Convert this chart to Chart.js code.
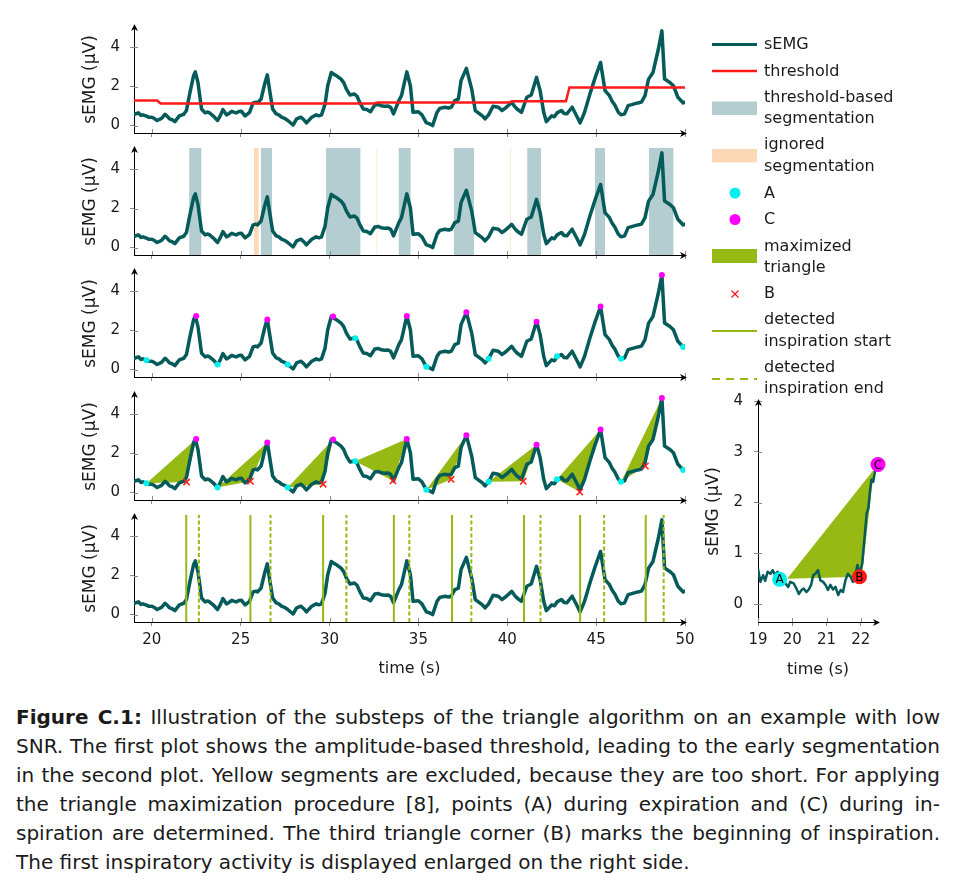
<!DOCTYPE html>
<html>
<head>
<meta charset="utf-8">
<script src="https://cdn.jsdelivr.net/npm/chart.js@4.4.0/dist/chart.umd.min.js"></script>
<style>
  body { margin: 0; background: #fff; font-family: "DejaVu Sans", sans-serif; color: #1a1a1a; }
  #page { position: relative; width: 955px; height: 888px; overflow: hidden; }
  canvas { position: absolute; }
  .lg { position: absolute; left: 764px; font-size: 16px; line-height: 20px; white-space: nowrap; }
  #legendSymbols { position: absolute; left: 0; top: 0; }
  #cap { position: absolute; left: 16px; top: 703px; width: 924px; font-size: 20px; }
  #cap .l { height: 29px; line-height: 29px; text-align: justify; text-align-last: justify; }
  #cap .l.last { text-align-last: left; }
</style>
</head>
<body>
<div id="page">
  <canvas id="p1" width="615" height="125" style="left:80px;top:18px"></canvas>
  <canvas id="p2" width="615" height="125" style="left:80px;top:140px"></canvas>
  <canvas id="p3" width="615" height="125" style="left:80px;top:262px"></canvas>
  <canvas id="p4" width="615" height="125" style="left:80px;top:385px"></canvas>
  <canvas id="p5" width="615" height="171" style="left:80px;top:507px"></canvas>
  <canvas id="pz" width="186" height="286" style="left:703px;top:393px"></canvas>

  <svg id="legendSymbols" width="955" height="400">
    <line x1="712" y1="44.5" x2="757" y2="44.5" stroke="#055a5a" stroke-width="3"/>
    <line x1="712" y1="71" x2="757" y2="71" stroke="#ff1a1a" stroke-width="2.5"/>
    <rect x="712" y="101.5" width="45" height="13.5" fill="#b4cdd0"/>
    <rect x="712" y="149" width="45" height="13.5" fill="#fdd8b5"/>
    <circle cx="735" cy="193" r="5.5" fill="#00f0f0"/>
    <circle cx="735" cy="219.5" r="5.5" fill="#ff00ff"/>
    <rect x="712" y="249" width="45" height="14" fill="#96b914"/>
    <path d="M731.5 290.5 L738.5 297.5 M738.5 290.5 L731.5 297.5" stroke="#ff1a1a" stroke-width="1.3"/>
    <line x1="712" y1="331" x2="757" y2="331" stroke="#96b914" stroke-width="2"/>
    <line x1="712" y1="379" x2="757" y2="379" stroke="#96b914" stroke-width="2" stroke-dasharray="8,6"/>
  </svg>
  <div class="lg" style="top:34px">sEMG</div>
  <div class="lg" style="top:61px">threshold</div>
  <div class="lg" style="top:87px">threshold-based</div>
  <div class="lg" style="top:108px">segmentation</div>
  <div class="lg" style="top:134px">ignored</div>
  <div class="lg" style="top:156px">segmentation</div>
  <div class="lg" style="top:183px">A</div>
  <div class="lg" style="top:209px">C</div>
  <div class="lg" style="top:236px">maximized</div>
  <div class="lg" style="top:257px">triangle</div>
  <div class="lg" style="top:283px">B</div>
  <div class="lg" style="top:309px">detected</div>
  <div class="lg" style="top:331px">inspiration start</div>
  <div class="lg" style="top:357px">detected</div>
  <div class="lg" style="top:378px">inspiration end</div>

  <div id="cap">
    <div class="l"><b>Figure C.1:</b> Illustration of the substeps of the triangle algorithm on an example with low</div>
    <div class="l">SNR. The first plot shows the amplitude-based threshold, leading to the early segmentation</div>
    <div class="l">in the second plot. Yellow segments are excluded, because they are too short. For applying</div>
    <div class="l">the triangle maximization procedure [8], points (A) during expiration and (C) during in-</div>
    <div class="l">spiration are determined. The third triangle corner (B) marks the beginning of inspiration.</div>
    <div class="l last">The first inspiratory activity is displayed enlarged on the right side.</div>
  </div>
</div>

<script>
// Signal sEMG (temps en s, amplitude en µV)
const T = [19.0, 19.15, 19.25, 19.4, 19.5, 19.7, 19.85, 20.0, 20.15, 20.3, 20.55, 20.75, 20.9, 21.0, 21.15, 21.3, 21.55,
  21.8, 21.95, 22.15, 22.35, 22.45, 22.6, 22.8, 23.0, 23.15, 23.25, 23.45, 23.7, 23.85, 24.0, 24.2, 24.35, 24.5, 24.65,
  24.75, 24.9, 25.05, 25.25, 25.5, 25.7, 25.85, 25.95, 26.15, 26.35, 26.5, 26.65, 26.8, 27.0, 27.15, 27.3, 27.5, 27.65,
  27.95, 28.15, 28.4, 28.55, 28.7, 29.0, 29.25, 29.4, 29.55, 29.75, 29.9, 30.1, 30.25, 30.4, 30.65, 30.8, 30.95, 31.15,
  31.4, 31.55, 31.7, 31.9, 32.1, 32.3, 32.55, 32.75, 32.9, 33.1, 33.3, 33.45, 33.6, 33.9, 34.05, 34.35, 34.55, 34.7,
  35.0, 35.2, 35.45, 35.6, 35.8, 36.05, 36.2, 36.5, 36.7, 36.85, 37.05, 37.25, 37.4, 37.7, 38.0, 38.2, 38.45, 38.6,
  38.75, 38.95, 39.2, 39.5, 39.7, 39.95, 40.25, 40.4, 40.55, 40.8, 41.1, 41.35, 41.65, 41.85, 42.05, 42.2, 42.5, 42.65,
  42.8, 43.05, 43.2, 43.35, 43.65, 43.9, 44.1, 44.35, 44.65, 44.95, 45.25, 45.5, 45.75, 45.9, 46.05, 46.25, 46.4, 46.6,
  46.8, 47.1, 47.35, 47.55, 47.75, 47.95, 48.2, 48.5, 48.7, 48.85, 49.15, 49.35, 49.6, 49.9, 50.0];
const SEMG = [0.56, 0.62, 0.65, 0.52, 0.55, 0.48, 0.42, 0.43, 0.36, 0.26, 0.37, 0.58, 0.45, 0.34, 0.3, 0.2, 0.5,
  0.58, 0.77, 1.7, 2.55, 2.75, 2.2, 0.85, 0.65, 0.7, 0.65, 0.5, 0.26, 0.5, 0.82, 0.55, 0.62, 0.73, 0.68,
  0.65, 0.72, 0.73, 0.5, 0.68, 1.16, 1.2, 1.16, 1.36, 2.13, 2.6, 1.7, 0.85, 0.6, 0.55, 0.43, 0.36, 0.26,
  0.03, 0.34, 0.43, 0.3, 0.14, 0.43, 0.55, 0.5, 0.55, 1.1, 2.04, 2.72, 2.62, 2.55, 2.38, 2.2, 1.87, 1.57,
  1.62, 1.5, 1.19, 0.85, 0.82, 0.71, 1.05, 1.08, 1.02, 0.99, 1.0, 0.92, 0.6, 1.28, 1.53, 2.75, 2.04, 0.68,
  0.71, 0.55, 0.14, 0.1, 0.0, 0.68, 0.88, 0.94, 0.9, 0.94, 1.28, 1.36, 2.3, 2.93, 1.87, 0.77, 0.6, 0.5,
  0.34, 0.55, 0.99, 0.94, 0.77, 0.94, 1.19, 1.0, 0.85, 0.68, 1.45, 1.57, 2.47, 1.79, 0.68, 0.2, 0.5, 0.45,
  0.65, 0.77, 0.62, 0.6, 0.94, 0.5, 0.14, 0.68, 1.62, 2.47, 3.23, 1.79, 1.53, 1.25, 1.05, 0.68, 0.55, 0.6,
  1.02, 1.1, 1.16, 1.2, 1.53, 2.38, 2.72, 3.91, 4.85, 2.38, 2.21, 2.04, 1.45, 1.16, 1.2];

// Seuil adaptatif (panneau 1)
const THR_T = [19.0, 20.3, 20.5, 32.5, 32.7, 40.1, 40.3, 43.3, 43.5, 50.0];
const THR_V = [1.28, 1.28, 1.13, 1.13, 1.18, 1.18, 1.24, 1.24, 1.95, 1.95];

// Segmentation (panneau 2)
const SEG_START = [22.1, 26.13, 29.79, 33.88, 36.98, 41.12, 44.92, 47.96];
const SEG_END = [22.8, 26.77, 31.75, 34.57, 38.13, 41.91, 45.5, 49.36];
const IGN_START = [25.74, 32.64, 40.17];
const IGN_END = [26.02, 32.7, 40.23];

// Coins A, C, B (panneaux 3 et 4)
const A_T = [19.7, 23.7, 27.65, 31.45, 35.45, 38.95, 42.8, 46.4, 49.9];
const A_V = [0.48, 0.26, 0.26, 1.6, 0.14, 0.55, 0.68, 0.55, 1.16];
const C_T = [22.5, 26.5, 30.2, 34.35, 37.7, 41.65, 45.25, 48.7];
const C_V = [2.75, 2.57, 2.72, 2.75, 2.93, 2.45, 3.23, 4.85];
const B_T = [21.96, 25.55, 29.64, 33.57, 36.84, 40.9, 44.08, 47.77];
const B_V = [0.54, 0.58, 0.43, 0.6, 0.68, 0.58, 0.03, 1.36];

// Début / fin d'inspiration détectés (panneau 5)
const INSP_START = [21.94, 25.55, 29.64, 33.62, 36.89, 40.94, 44.1, 47.79];
const INSP_END = [22.65, 26.68, 30.95, 34.49, 37.98, 41.87, 45.45, 48.8];

const X_TICKS = [20, 25, 30, 35, 40, 45, 50];
const Y_TICKS = [0, 2, 4];

// Zoom sur la première inspiration
const ZOOM_T = [19.0, 19.07, 19.15, 19.21, 19.28, 19.36, 19.43, 19.5, 19.57, 19.65, 19.8, 19.88, 19.94, 20.04, 20.12,
  20.19, 20.27, 20.33, 20.41, 20.48, 20.55, 20.61, 20.67, 20.75, 20.82, 20.9, 20.97, 21.04, 21.11, 21.19, 21.26,
  21.34, 21.41, 21.48, 21.55, 21.62, 21.7, 21.77, 21.84, 21.9, 21.96, 22.04, 22.11, 22.17, 22.22, 22.27, 22.31,
  22.36, 22.41, 22.46, 22.5];
const ZOOM_V = [0.7, 0.44, 0.57, 0.46, 0.64, 0.6, 0.67, 0.57, 0.64, 0.5, 0.41, 0.34, 0.44, 0.41, 0.31,
  0.2, 0.28, 0.31, 0.24, 0.29, 0.38, 0.57, 0.6, 0.67, 0.47, 0.44, 0.38, 0.28, 0.38, 0.29, 0.34,
  0.18, 0.28, 0.24, 0.47, 0.6, 0.54, 0.44, 0.57, 0.77, 0.6, 0.8, 1.33, 1.79, 1.89, 2.25, 2.45,
  2.41, 2.61, 2.71, 2.74];
const ZOOM_LABELS = ['A', 'B', 'C'];
const ZOOM_MARK_T = [19.63, 21.96, 22.5];
const ZOOM_MARK_V = [0.49, 0.54, 2.75];
const ZOOM_TRI_T = [19.85, 22.38, 22.03];
const ZOOM_TRI_V = [0.5, 2.65, 0.54];
const ZOOM_X_TICKS = [19, 20, 21, 22];
const ZOOM_Y_TICKS = [0, 1, 2, 3, 4];

const FONT = '"DejaVu Sans", sans-serif';
const INK = '#1a1a1a';
const TEAL = '#055a5a';
const RED = '#ff1a1a';
const GREEN = '#96b914';
const BAND = '#b4cdd0';
const IGNORED = '#fdd8b5';
const CYAN = '#00f0f0';
const MAGENTA = '#ff00ff';
const Y_MIN = -0.38, Y_MAX = 5.1;

const pts = (xs, ys) => xs.map((x, i) => ({ x: x, y: ys[i] }));

// Petites graduations internes + flèches au bout des axes
const axisDeco = {
    id: 'axisDeco',
    afterDraw(chart) {
        const { ctx, chartArea: a, scales: { x, y } } = chart;
        ctx.save();
        ctx.strokeStyle = '#8c8c8c';
        ctx.lineWidth = 1;
        ctx.beginPath();
        x.ticks.forEach(t => {
            const px = Math.round(x.getPixelForValue(t.value)) + 0.5;
            ctx.moveTo(px, a.bottom);
            ctx.lineTo(px, a.bottom - 4);
        });
        y.ticks.forEach(t => {
            const py = Math.round(y.getPixelForValue(t.value)) + 0.5;
            ctx.moveTo(a.left, py);
            ctx.lineTo(a.left + 4, py);
        });
        ctx.stroke();
        ctx.fillStyle = '#000';
        const lx = Math.round(a.left) + 0.5, by = Math.round(a.bottom) + 0.5;
        ctx.beginPath();
        ctx.moveTo(lx, a.top - 2);
        ctx.lineTo(lx - 3.5, a.top + 5);
        ctx.lineTo(lx, a.top + 3);
        ctx.lineTo(lx + 3.5, a.top + 5);
        ctx.closePath();
        ctx.fill();
        ctx.beginPath();
        ctx.moveTo(a.right + 2, by);
        ctx.lineTo(a.right - 5, by - 3.5);
        ctx.lineTo(a.right - 3, by);
        ctx.lineTo(a.right - 5, by + 3.5);
        ctx.closePath();
        ctx.fill();
        ctx.restore();
    }
};

// Lettres dans les gros marqueurs du zoom
const cornerLabels = {
    id: 'cornerLabels',
    afterDatasetsDraw(chart) {
        const { ctx, scales: { x, y } } = chart;
        ctx.save();
        ctx.font = '12px ' + FONT;
        ctx.fillStyle = '#000';
        ctx.textAlign = 'center';
        ctx.textBaseline = 'middle';
        ZOOM_LABELS.forEach((lab, i) => {
            ctx.fillText(lab, x.getPixelForValue(ZOOM_MARK_T[i]), y.getPixelForValue(ZOOM_MARK_V[i]) + 1);
        });
        ctx.restore();
    }
};

function xScale(min, max, ticks, height, labels) {
    return {
        type: 'linear', min: min, max: max,
        afterBuildTicks: s => { s.ticks = ticks.map(v => ({ value: v })); },
        afterFit: s => { s.height = height; s.paddingLeft = 0; s.paddingRight = 0; s.paddingTop = 0; s.paddingBottom = 0; },
        grid: { drawOnChartArea: false, tickLength: 4, color: '#8c8c8c' },
        border: { color: '#000', width: 1 },
        ticks: { display: labels, padding: 5, color: INK, font: { family: FONT, size: 15 }, maxRotation: 0, autoSkip: false },
        title: { display: labels, text: 'time (s)', color: INK, padding: 0, font: { family: FONT, size: 16 } }
    };
}

function yScale(min, max, ticks, width, pad) {
    return {
        type: 'linear', min: min, max: max,
        afterBuildTicks: s => { s.ticks = ticks.map(v => ({ value: v })); },
        afterFit: s => { s.width = width; s.paddingLeft = 0; s.paddingRight = 0; s.paddingTop = 0; s.paddingBottom = 0; },
        grid: { drawOnChartArea: false, tickLength: 4, color: '#8c8c8c' },
        border: { color: '#000', width: 1 },
        ticks: { padding: pad, color: INK, font: { family: FONT, size: 15 } },
        title: { display: true, text: 'sEMG (µV)', color: INK, padding: 0, font: { family: FONT, size: 17 } }
    };
}

function signalSet() {
    return { data: pts(T, SEMG), borderColor: TEAL, borderWidth: 3.5, pointRadius: 0, order: 2,
             borderJoinStyle: 'round', borderCapStyle: 'round' };
}

function markerSet(xs, ys, color) {
    return { data: pts(xs, ys), showLine: false, pointRadius: 3, pointBackgroundColor: color,
             pointBorderWidth: 0, order: 0 };
}

function panel(id, datasets, withLabels) {
    return new Chart(document.getElementById(id), {
        type: 'line',
        data: { datasets: datasets },
        options: {
            responsive: false,
            animation: false,
            layout: { padding: { top: 8, right: 10, left: 0, bottom: 0 } },
            plugins: { legend: { display: false }, tooltip: { enabled: false } },
            scales: {
                x: xScale(19, 50, X_TICKS, withLabels ? 56 : 10, withLabels),
                y: yScale(Y_MIN, Y_MAX, Y_TICKS, 54, 10)
            }
        },
        plugins: [axisDeco]
    });
}

function bandSet(s, e, color) {
    return { data: [{ x: s, y: Y_MAX }, { x: e, y: Y_MAX }], fill: 'start', backgroundColor: color,
             borderWidth: 0, pointRadius: 0, order: 5 };
}

function vlineSet(t, dashed) {
    return { data: [{ x: t, y: Y_MIN }, { x: t, y: Y_MAX }], borderColor: GREEN, borderWidth: 2,
             borderDash: dashed ? [4, 2.5] : [], pointRadius: 0, order: 0 };
}

function triangleSets() {
    return A_T.slice(0, C_T.length).map((at, i) => ({
        data: [{ x: at, y: A_V[i] }, { x: C_T[i], y: C_V[i] }, { x: B_T[i], y: B_V[i] }, { x: at, y: A_V[i] }],
        fill: 'shape', backgroundColor: GREEN, borderWidth: 0, pointRadius: 0, order: 4
    }));
}

function initCharts() {
    // 1. seuil
    panel('p1', [
        { data: pts(THR_T, THR_V), borderColor: RED, borderWidth: 2.5, pointRadius: 0, order: 1 },
        signalSet()
    ], false);

    // 2. segmentation
    const bands = SEG_START.map((s, i) => bandSet(s, SEG_END[i], BAND))
        .concat(IGN_START.map((s, i) => bandSet(s, IGN_END[i], IGNORED)));
    panel('p2', [signalSet()].concat(bands), false);

    // 3. points A et C
    panel('p3', [markerSet(A_T, A_V, CYAN), markerSet(C_T, C_V, MAGENTA), signalSet()], false);

    // 4. triangles
    panel('p4', [
        markerSet(A_T, A_V, CYAN), markerSet(C_T, C_V, MAGENTA),
        { data: pts(B_T, B_V), showLine: false, pointStyle: 'crossRot', pointRadius: 4.5,
          pointBorderColor: RED, pointBorderWidth: 1.5, order: 0 },
        signalSet()
    ].concat(triangleSets()), false);

    // 5. début / fin d'inspiration
    panel('p5', [signalSet()]
        .concat(INSP_START.map(t => vlineSet(t, false)))
        .concat(INSP_END.map(t => vlineSet(t, true))), true);

    // Zoom
    new Chart(document.getElementById('pz'), {
        type: 'line',
        data: {
            datasets: [
                { data: pts(ZOOM_MARK_T, ZOOM_MARK_V), showLine: false, pointRadius: 7.5, pointBorderWidth: 0,
                  pointBackgroundColor: [CYAN, RED, MAGENTA], clip: false, order: 0 },
                { data: pts(ZOOM_T, ZOOM_V), borderColor: TEAL, borderWidth: 2.5, pointRadius: 0, order: 1,
                  borderJoinStyle: 'round' },
                { data: pts(ZOOM_TRI_T.concat([ZOOM_TRI_T[0]]), ZOOM_TRI_V.concat([ZOOM_TRI_V[0]])),
                  fill: 'shape', backgroundColor: GREEN, borderWidth: 0, pointRadius: 0, order: 2 }
            ]
        },
        options: {
            responsive: false,
            animation: false,
            layout: { padding: { top: 8, right: 11, left: 0, bottom: 0 } },
            plugins: { legend: { display: false }, tooltip: { enabled: false } },
            scales: {
                x: xScale(19, 22.5, ZOOM_X_TICKS, 57, true),
                y: yScale(-0.35, 4.0, ZOOM_Y_TICKS, 55, 11)
            }
        },
        plugins: [axisDeco, cornerLabels]
    });
}

document.addEventListener('DOMContentLoaded', initCharts);
</script>
</body>
</html>
